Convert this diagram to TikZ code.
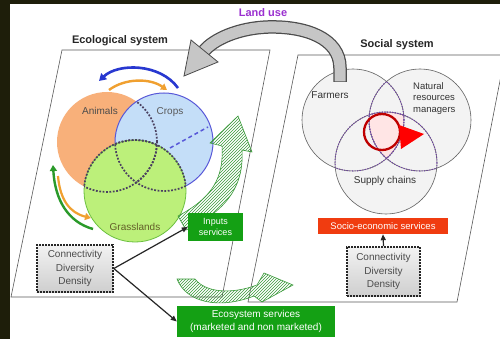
\documentclass[tikz,border=0pt]{standalone}
\usepackage{fontspec}
\setmainfont{Liberation Sans}
\usetikzlibrary{arrows.meta,patterns}
\definecolor{bgdark}{HTML}{1E1E0A}
\definecolor{orfill}{HTML}{F8B07A}
\definecolor{blfill}{HTML}{C4DEF8}
\definecolor{blline}{HTML}{5858D8}
\definecolor{grfill}{HTML}{BCF07A}
\definecolor{grline}{HTML}{6CC040}
\definecolor{dotc}{HTML}{4A4060}
\definecolor{sdotc}{HTML}{7040A8}
\definecolor{sfill}{HTML}{F3F3F3}
\definecolor{boxgreen}{HTML}{14A014}
\definecolor{boxred}{HTML}{F03C10}
\definecolor{landpurple}{HTML}{9B30D0}
\definecolor{arcblue}{HTML}{2838D0}
\definecolor{arcorange}{HTML}{F0A030}
\definecolor{arcgreen}{HTML}{2A9A2A}
\definecolor{hatchgreen}{HTML}{3A9A3A}
\definecolor{txt}{HTML}{333333}
\begin{document}
\begin{tikzpicture}[x=1pt,y=-1pt,
  frame/.style={draw=gray!70!black,line width=0.6pt},
  edot/.style={draw=dotc,line width=1.7pt,dash pattern=on 1.8pt off 1.6pt},
  sdot/.style={draw=sdotc,line width=1pt,dash pattern=on 1.1pt off 1.5pt},
  scirc/.style={draw=gray!75!black,line width=0.6pt},
  lbl/.style={font=\fontsize{10}{12}\selectfont,text=txt,inner sep=0pt},
  ttl/.style={font=\fontsize{11}{13}\selectfont\bfseries,text=black!85,inner sep=0pt},
  cddbox/.style={draw=black!85,line width=1.6pt,dash pattern=on 1.6pt off 1.4pt,
     top color=gray!10,bottom color=gray!38,minimum width=76pt,minimum height=47pt,
     align=center,font=\fontsize{10}{13.5}\selectfont,text=black!70,inner sep=0pt},
  gbox/.style={fill=boxgreen,text=white,align=center,inner sep=0pt},
  conn/.style={draw=black!85,line width=1.2pt,-{Triangle[length=6pt,width=5pt]}},
  hatch/.style={pattern=north east lines,pattern color=hatchgreen,draw=hatchgreen,line width=0.6pt}]
\useasboundingbox (0,0) rectangle (500,339);
\fill[bgdark] (-5,-5) rectangle (506,345);
\fill[white] (10,4) rectangle (506,345);

% frames
\draw[frame] (62,50) -- (270,50) -- (222,297) -- (11,297) -- cycle;
\draw[frame] (298,55) -- (505,55) -- (457,302) -- (248,302) -- cycle;

% titles
\node[ttl] (teco) at (120,41) {Ecological system};
\node[ttl] (tsoc) at (397,45) {Social system};

% ecological circles
\fill[orfill] (107,142) circle[radius=50pt];
\filldraw[fill=blfill,draw=blline,line width=1pt] (164,142) circle[radius=49pt];
\filldraw[fill=grfill,draw=grline,line width=0.8pt] (135,191) circle[radius=51pt];
\draw[blline,line width=1.5pt,dash pattern=on 4pt off 3pt] (170,148) -- (208,127);
\begin{scope}\clip (164,142) circle[radius=49pt]; \draw[edot] (107,142) circle[radius=50pt];\end{scope}
\begin{scope}\clip (135,191) circle[radius=51pt]; \draw[edot] (107,142) circle[radius=50pt];\end{scope}
\begin{scope}\clip (135,191) circle[radius=51pt]; \draw[edot] (164,142) circle[radius=49pt];\end{scope}
\begin{scope}\clip (107,142) circle[radius=50pt]; \draw[edot] (135,191) circle[radius=51pt];\end{scope}
\begin{scope}\clip (164,142) circle[radius=49pt]; \draw[edot] (135,191) circle[radius=51pt];\end{scope}

\node[lbl,text=black!70] (tanim) at (100,111) {Animals};
\node[lbl,text=black!65] (tcrop) at (170,112) {Crops};
\node[lbl,text=olive!60!black] (tgrass) at (135,227) {Grasslands};

% cycle arrows
\draw[arcblue,line width=2.6pt,-{Triangle[length=7pt,width=8pt]}] (178,88) .. controls (160,63) and (118,63) .. (99,81);
\draw[arcorange,line width=2.4pt,-{Triangle[length=6pt,width=7pt]}] (109,90) .. controls (125,78) and (150,78) .. (167,90);
\draw[arcgreen,line width=2.4pt,-{Triangle[length=6pt,width=7pt]}] (93,229) .. controls (68,222) and (55,200) .. (53,165);
\draw[arcorange,line width=2.2pt,-{Triangle[length=6pt,width=7pt]}] (58,176) .. controls (60,200) and (70,213) .. (91,218);

% hatched arrows
\path[hatch] (186,230) .. controls (228,210) and (244,185) .. (242,150)
   -- (252,152) -- (238,116) -- (210,143) -- (222,146)
   .. controls (224,178) and (212,198) .. (178,216) -- cycle;
\path[hatch] (177,279) .. controls (186,302) and (218,310) .. (254,296)
   -- (262,302) -- (293,285) -- (264,273) -- (257,285)
   .. controls (230,295) and (205,292) .. (195,279) -- cycle;

% social circles
\fill[sfill] (353,120) circle[radius=51pt];
\fill[sfill] (420,120) circle[radius=51pt];
\fill[sfill] (386,163) circle[radius=51pt];
\begin{scope}\clip (353,120) circle[radius=51pt]; \clip (420,120) circle[radius=51pt];
  \fill[red!10] (386,163) circle[radius=51pt];\end{scope}
\draw[scirc] (353,120) circle[radius=51pt];
\draw[scirc] (420,120) circle[radius=51pt];
\draw[scirc] (386,163) circle[radius=51pt];
\begin{scope}\clip (420,120) circle[radius=51pt]; \draw[sdot] (353,120) circle[radius=51pt];\end{scope}
\begin{scope}\clip (386,163) circle[radius=51pt]; \draw[sdot] (353,120) circle[radius=51pt];\end{scope}
\begin{scope}\clip (353,120) circle[radius=51pt]; \draw[sdot] (420,120) circle[radius=51pt];\end{scope}
\begin{scope}\clip (386,163) circle[radius=51pt]; \draw[sdot] (420,120) circle[radius=51pt];\end{scope}
\begin{scope}\clip (353,120) circle[radius=51pt]; \draw[sdot] (386,163) circle[radius=51pt];\end{scope}
\begin{scope}\clip (420,120) circle[radius=51pt]; \draw[sdot] (386,163) circle[radius=51pt];\end{scope}

% red cycle
\draw[red!75!black,line width=2.3pt] (382,132) circle[radius=18pt];
\fill[red] (399,125) -- (424,134) -- (401,149) -- cycle;

\node[lbl] (tfarm) at (330,95) {Farmers};
\node[lbl,anchor=north west,align=left,font=\fontsize{9.5}{11.8}\selectfont] (tnat) at (413,82) {Natural\\resources\\managers};
\node[lbl] (tsup) at (385,181) {Supply chains};

% land use arrow
\draw[gray!60!black,line width=13.5pt] (340,82) -- (340,68) .. controls (340,38) and (305,26) .. (268,27) .. controls (238,28) and (213.5,39.4) .. (204,51);
\draw[gray!45,line width=11pt] (340,81.3) -- (340,68) .. controls (340,38) and (305,26) .. (268,27) .. controls (238,28) and (213.5,39.4) .. (204,51);
\filldraw[fill=gray!45,draw=gray!60!black,line width=0.8pt] (218,62) -- (184,76) -- (191,40) -- cycle;
\node[ttl,text=landpurple] (tland) at (263,13) {Land use};

% boxes
\node[cddbox] (ecdd) at (75,268.5) {Connectivity\\Diversity\\Density};
\node[cddbox,minimum width=73pt,minimum height=49pt] (scdd) at (383.5,271.5) {Connectivity\\Diversity\\Density};
\node[gbox,minimum width=55pt,minimum height=28pt,font=\fontsize{9}{11}\selectfont] (inputs) at (215.5,227) {Inputs\\services};
\node[gbox,minimum width=158pt,minimum height=31pt,font=\fontsize{10}{13}\selectfont] (ecos) at (256,321.5) {Ecosystem services\\(marketed and non marketed)};
\node[fill=boxred,text=white,minimum width=130pt,minimum height=16pt,inner sep=0pt,font=\fontsize{9.5}{11}\selectfont] (socio) at (383,226) {Socio-economic services};

% connectors
\draw[conn] (ecdd.east) -- (inputs.west);
\draw[conn] (ecdd.east) -- (ecos.west);
\draw[conn] (scdd.north) -- (socio.south);
\end{tikzpicture}
\end{document}
